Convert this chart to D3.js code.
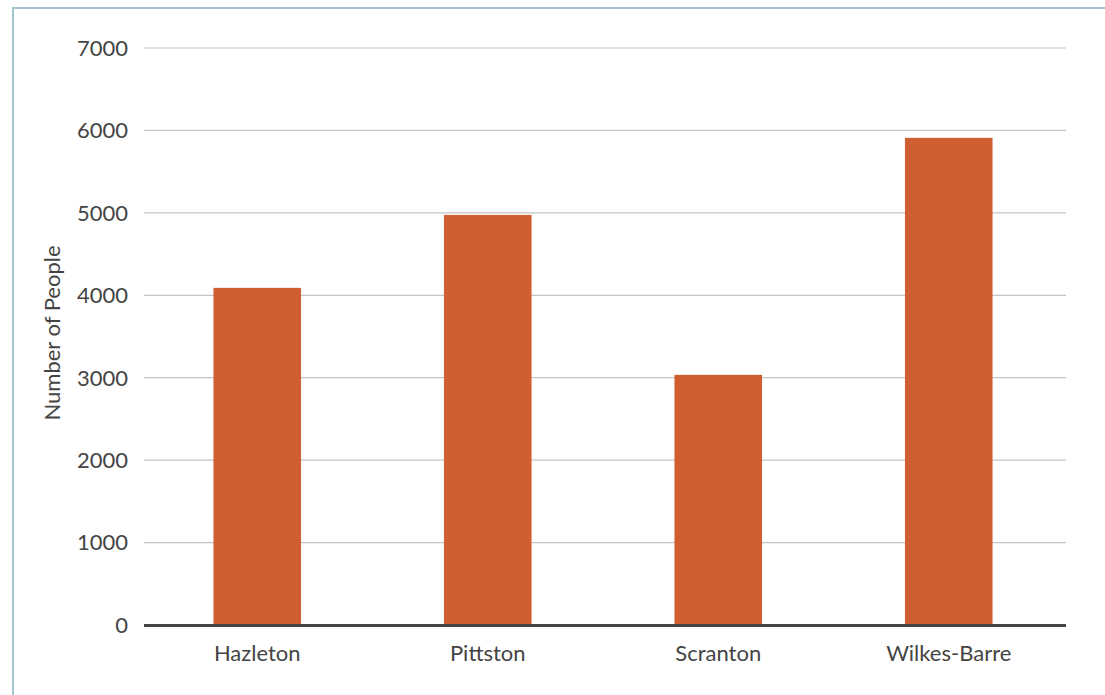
<!DOCTYPE html>
<html>
<head>
<meta charset="utf-8">
<script src="https://cdn.jsdelivr.net/npm/d3@7"></script>
<style>
  body { margin: 0; background: #fff; }
  text { font-family: Lato, "Open Sans", sans-serif; fill: #444; }
</style>
</head>
<body>
<div id="grafico"></div>
<script>
const cities = ['Hazleton', 'Pittston', 'Scranton', 'Wilkes-Barre']
const people = [4090, 4975, 3035, 5910]
const yTicks = [0, 1000, 2000, 3000, 4000, 5000, 6000, 7000]

const width = 1105
const height = 695
const margin = {top: 48, right: 39, bottom: 70, left: 144}

const svg = d3.select('#grafico')
              .append('svg')
              .attr('width', width)
              .attr('height', height)

// teal frame on the left and top
svg.append('path')
   .attr('d', `M13,${height} V8 H${width}`)
   .attr('fill', 'none')
   .attr('stroke', '#a3c7ce')
   .attr('stroke-width', 2)

const x = d3.scaleBand()
            .domain(cities)
            .range([margin.left - 2, width - margin.right - 2])
            .paddingInner(0.62)
            .paddingOuter(0.31)

const y = d3.scaleLinear()
            .domain([0, 7000])
            .range([height - margin.bottom, margin.top])

// grid lines
svg.append('g')
   .selectAll('line')
   .data(yTicks.slice(1))
   .enter()
   .append('line')
   .attr('x1', margin.left)
   .attr('x2', width - margin.right)
   .attr('y1', d => y(d))
   .attr('y2', d => y(d))
   .attr('stroke', '#c4c4c4')
   .attr('stroke-width', 1.2)

// y labels
svg.append('g')
   .selectAll('text')
   .data(yTicks)
   .enter()
   .append('text')
   .attr('x', margin.left - 16)
   .attr('y', d => y(d))
   .attr('dy', '0.36em')
   .attr('text-anchor', 'end')
   .style('font-size', '22px')
   .text(d => d)

// bars
svg.append('g')
   .selectAll('rect')
   .data(cities)
   .enter()
   .append('rect')
   .attr('x', d => x(d))
   .attr('width', x.bandwidth())
   .attr('y', (d, i) => y(people[i]))
   .attr('height', (d, i) => y(0) - y(people[i]))
   .attr('fill', '#cf5f31')

// baseline
svg.append('line')
   .attr('x1', margin.left)
   .attr('x2', width - margin.right)
   .attr('y1', y(0) + 0.5)
   .attr('y2', y(0) + 0.5)
   .attr('stroke', '#444')
   .attr('stroke-width', 3)

// x labels
svg.append('g')
   .selectAll('text')
   .data(cities)
   .enter()
   .append('text')
   .attr('x', d => x(d) + x.bandwidth() / 2)
   .attr('y', 661)
   .attr('text-anchor', 'middle')
   .style('font-size', '22px')
   .text(d => d)

svg.append('text')
   .attr('transform', `translate(60, 333) rotate(-90)`)
   .attr('text-anchor', 'middle')
   .style('font-size', '22px')
   .text('Number of People')
</script>
</body>
</html>
